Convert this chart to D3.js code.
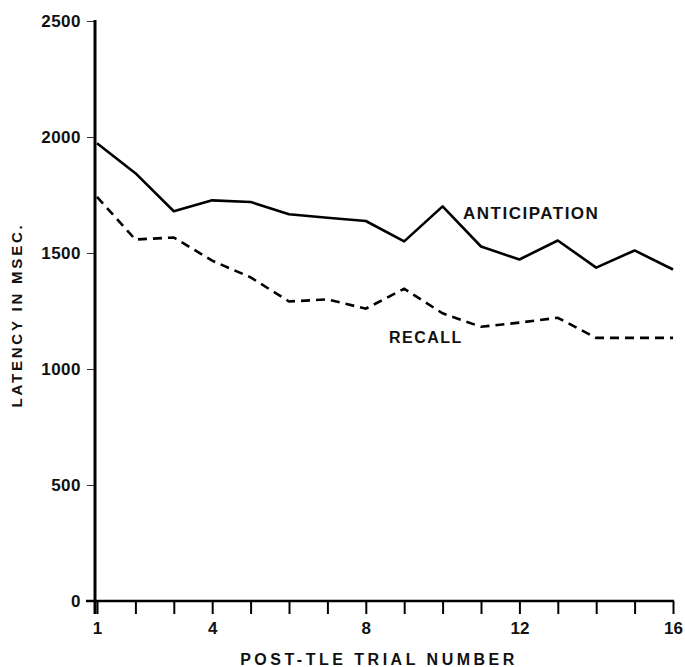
<!DOCTYPE html>
<html>
<head>
<meta charset="utf-8">
<script src="https://cdn.jsdelivr.net/npm/d3@7"></script>
<style>
  body { margin: 0; background: #fff; }
  text { font-family: "Liberation Sans", "DejaVu Sans", sans-serif; fill: #111; font-weight: bold; }
</style>
</head>
<body>
<div id="chart"></div>
<script>
// data
var trials = [1, 2, 3, 4, 5, 6, 7, 8, 9, 10, 11, 12, 13, 14, 15, 16];
var anticipation = [1973, 1844, 1680, 1727, 1720, 1667, 1652, 1638, 1550, 1701, 1528, 1472, 1554, 1437, 1511, 1429];
var recall = [1742, 1558, 1567, 1467, 1395, 1291, 1300, 1260, 1346, 1240, 1182, 1200, 1221, 1134, 1134, 1134];
var yTicks = [0, 500, 1000, 1500, 2000, 2500];
var xLabels = [1, 4, 8, 12, 16];

var svgWidth = 685;
var svgHeight = 667;

var svg = d3.select("#chart")
  .append("svg")
  .attr("width", svgWidth)
  .attr("height", svgHeight);

var xScale = d3.scaleLinear()
  .domain([1, 16])
  .range([97, 673]);

var yScale = d3.scaleLinear()
  .domain([0, 2500])
  .range([601, 21]);

// y axis
var leftAxis = d3.axisLeft(yScale)
  .tickValues(yTicks)
  .tickSize(8)
  .tickPadding(6)
  .tickFormat(d3.format("d"));

var yAxis = svg.append("g")
  .attr("transform", "translate(95, 0)")
  .call(leftAxis);
yAxis.select(".domain").remove();
yAxis.selectAll(".tick line").attr("stroke", "#333").attr("stroke-width", 1);
yAxis.selectAll(".tick text")
  .attr("font-size", "17px")
  .attr("letter-spacing", "0.5px")
  .attr("dy", "0.35em");

svg.append("line")
  .attr("x1", 95).attr("x2", 95)
  .attr("y1", yScale(2500) - 1).attr("y2", 614)
  .attr("stroke", "#000")
  .attr("stroke-width", 3);

// x axis
var bottomAxis = d3.axisBottom(xScale)
  .tickValues(trials)
  .tickSize(13)
  .tickPadding(8)
  .tickFormat(function(d) { return xLabels.indexOf(d) >= 0 ? d : ""; });

var xAxis = svg.append("g")
  .attr("transform", "translate(0, 601)")
  .call(bottomAxis);
xAxis.select(".domain").remove();
xAxis.selectAll(".tick line").attr("stroke", "#000").attr("stroke-width", 2);
xAxis.selectAll(".tick text").attr("font-size", "17px");

svg.append("line")
  .attr("x1", 86).attr("x2", 674)
  .attr("y1", 601).attr("y2", 601)
  .attr("stroke", "#000")
  .attr("stroke-width", 2.5);

// lines
var lineGen = d3.line()
  .x(function(d, i) { return xScale(trials[i]); })
  .y(function(d) { return yScale(d); });

svg.append("path")
  .datum(anticipation)
  .attr("d", lineGen)
  .attr("fill", "none")
  .attr("stroke", "#000")
  .attr("stroke-width", 2.6)
  .attr("stroke-linejoin", "round");

svg.append("path")
  .datum(recall)
  .attr("d", lineGen)
  .attr("fill", "none")
  .attr("stroke", "#000")
  .attr("stroke-width", 2.6)
  .attr("stroke-dasharray", "9,6");

// series labels
svg.append("text")
  .attr("x", 463)
  .attr("y", 219)
  .attr("font-size", "17px")
  .attr("letter-spacing", "1.5px")
  .text("ANTICIPATION");

svg.append("text")
  .attr("x", 389)
  .attr("y", 343)
  .attr("font-size", "16px")
  .attr("letter-spacing", "1.5px")
  .text("RECALL");

// axis titles
svg.append("text")
  .attr("x", 379)
  .attr("y", 665)
  .attr("text-anchor", "middle")
  .attr("font-size", "16px")
  .attr("letter-spacing", "3.5px")
  .text("POST-TLE TRIAL NUMBER");

svg.append("text")
  .attr("transform", "translate(22, 315) rotate(-90)")
  .attr("text-anchor", "middle")
  .attr("font-size", "15px")
  .attr("letter-spacing", "2.8px")
  .text("LATENCY IN MSEC.");
</script>
</body>
</html>
